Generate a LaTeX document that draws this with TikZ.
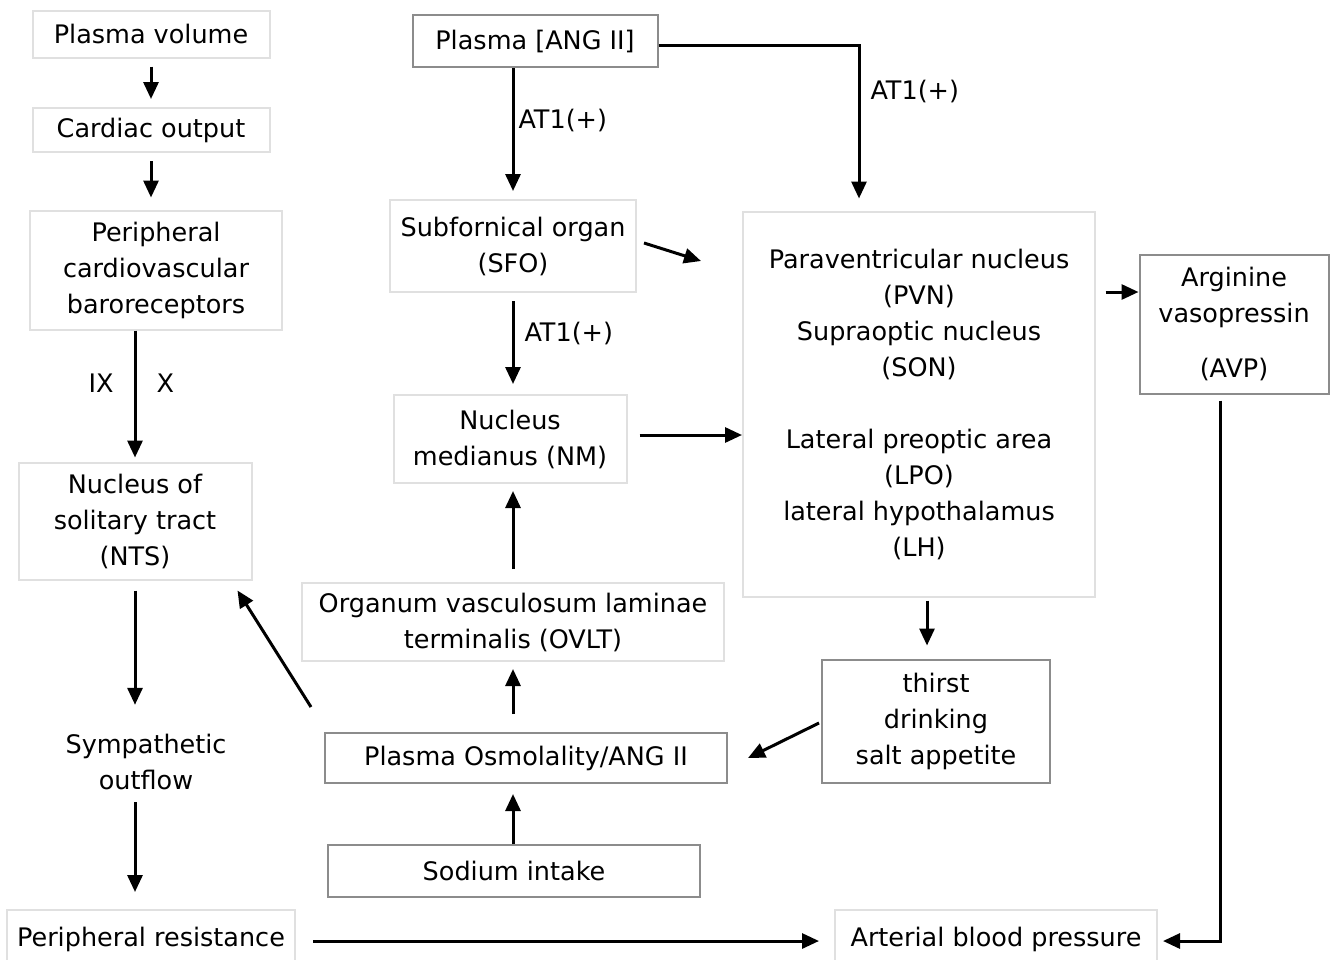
\documentclass[tikz,border=0pt]{standalone}
\usepackage{fontspec}
\setmainfont{DejaVu Sans}
\usetikzlibrary{arrows.meta,calc}
\begin{document}
\begin{tikzpicture}[x=1pt,y=-1pt,
  every node/.style={font=\fontsize{25.5}{36}\selectfont, align=center, inner sep=0pt},
  lbox/.style={draw=black!12, line width=2pt},
  dbox/.style={draw=black!45, line width=2pt},
  arr/.style={line width=3pt, -{Triangle[length=17pt,width=15pt]}},
  lbl/.style={font=\fontsize{25.5}{30}\selectfont}]
\useasboundingbox (0,0) rectangle (1337,959);
% left column
\node[lbox, minimum width=237, minimum height=47] (pv) at (151,34) {Plasma volume};
\node[lbox, minimum width=237, minimum height=44] (co) at (151,130) {Cardiac output};
\node[lbox, minimum width=252, minimum height=119] (pcb) at (156,270) {Peripheral\\cardiovascular\\baroreceptors};
\node[lbox, minimum width=233, minimum height=117] (nts) at (135,521) {Nucleus of\\solitary tract\\(NTS)};
\node[minimum width=190, minimum height=80] (symp) at (146,762) {Sympathetic\\outflow};
\node[lbox, minimum width=288, minimum height=58] (pr) at (151,939) {Peripheral resistance};
% middle column
\node[dbox, minimum width=245, minimum height=52] (ang) at (535,41) {Plasma [ANG II]};
\node[lbox, minimum width=246, minimum height=92] (sfo) at (513,246) {Subfornical organ\\(SFO)};
\node[lbox, minimum width=233, minimum height=88] (nm) at (510,439) {Nucleus\\medianus (NM)};
\node[lbox, minimum width=422, minimum height=78] (ovlt) at (513,622) {Organum vasculosum laminae\\terminalis (OVLT)};
\node[dbox, minimum width=402, minimum height=50] (posm) at (526,758) {Plasma Osmolality/ANG II};
\node[dbox, minimum width=372, minimum height=52] (na) at (514,871) {Sodium intake};
% right
\node[lbox, minimum width=352, minimum height=385] (hyp) at (919,404) {Paraventricular nucleus\\(PVN)\\Supraoptic nucleus\\(SON)\\[36pt]Lateral preoptic area\\(LPO)\\lateral hypothalamus\\(LH)};
\node[dbox, minimum width=189, minimum height=139] (avp) at (1234,324) {Arginine\\vasopressin\\[19pt](AVP)};
\node[dbox, minimum width=228, minimum height=123] (th) at (936,721) {thirst\\drinking\\salt appetite};
\node[lbox, minimum width=322, minimum height=58] (abp) at (996,939) {Arterial blood pressure};
% connectors left
\draw[arr, shorten <=8pt, shorten >=8pt] (pv.south) -- (co.north);
\draw[arr, shorten <=8pt, shorten >=12pt] (co.south) -- (co.south |- pcb.north);
\draw[arr, shorten >=4pt] (pcb.south -| nts.north) -- node[pos=0.4, left=20pt, lbl] {IX} node[pos=0.4, right=20pt, lbl] {X} (nts.north);
\draw[arr, shorten <=10pt, shorten >=17pt] (nts.south) -- (nts.south |- symp.north);
\draw[arr, shorten <=0pt, shorten >=17pt] (nts.south |- symp.south) -- (nts.south |- pr.north);
\draw[arr, shorten <=17pt, shorten >=15pt] (pr.east |- 0,941) -- (abp.west |- 0,941);
% middle connectors
\draw[arr, shorten >=8pt] (ang.south -| sfo.north) -- node[pos=0.4, right=4pt, lbl] {AT1(+)} (sfo.north);
\draw[arr, shorten >=12pt] (ang.east |- 0,45) -| node[pos=0.64, right=10pt, lbl] {AT1(+)} ($(hyp.north west)+(117,0)$);
\draw[arr] ($(sfo.east)+(7,-3)$) -- ($(sfo.east)+(64,15)$);
\draw[arr, shorten <=8pt, shorten >=10pt] (sfo.south) -- node[pos=0.4, right=10pt, lbl] {AT1(+)} (sfo.south |- nm.north);
\draw[arr, shorten <=12pt] (nm.east |- 0,435) -- (hyp.west |- 0,435);
\draw[arr, shorten <=13pt, shorten >=7pt] (ovlt.north) -- (ovlt.north |- nm.south);
\draw[arr, shorten <=18pt, shorten >=7pt] (ovlt.south |- posm.north) -- (ovlt.south);
\draw[arr, shorten >=10pt] (na.north -| ovlt.south) -- (ovlt.south |- posm.south);
\draw[arr] ($(posm.north west)+(-13,-25)$) -- ($(nts.south east)+(-15,10)$);
% right connectors
\draw[arr] ($(hyp.south)+(8,3)$) -- ($(th.north)+(-9,-13)$);
\draw[arr] ($(th.west)+(-2,2)$) -- ($(posm.east)+(20,0)$);
\draw[arr] ($(avp.west)+(-33,-32)$) -- ($(avp.west)+(0,-32)$);
\draw[arr, shorten >=5pt] ($(avp.south)+(-14,6)$) |- (abp.east |- 0,941);
\end{tikzpicture}
\end{document}
